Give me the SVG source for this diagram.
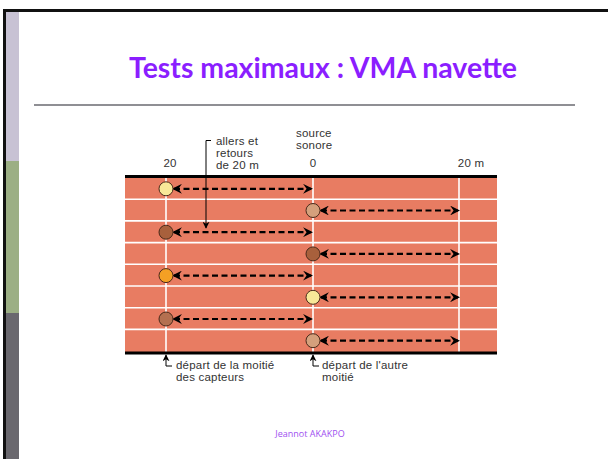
<svg xmlns="http://www.w3.org/2000/svg" width="608" height="459" viewBox="0 0 608 459">
  <defs>
    <marker id="ah" viewBox="0 0 10 10" refX="8" refY="5" markerWidth="4.5" markerHeight="4.5" orient="auto-start-reverse" markerUnits="strokeWidth">
      <path d="M0,0 L10,5 L0,10 L3.5,5 Z" fill="#000"/>
    </marker>
    <marker id="ahs" viewBox="0 0 10 10" refX="9" refY="5" markerWidth="7" markerHeight="7" orient="auto" markerUnits="strokeWidth">
      <path d="M0,0 L10,5 L0,10 L3,5 Z" fill="#000"/>
    </marker>
  </defs>
  <style>
    .lbl { font-family: "Liberation Sans", Arial, sans-serif; font-size: 11.5px; letter-spacing: 0.2px; fill: #333; }
    .lane { stroke: #fff; stroke-width: 1.6; }
    .shuttle { stroke: #000; stroke-width: 2.2; stroke-dasharray: 6 3.5; fill: none; marker-start: url(#ah); marker-end: url(#ah); }
    .runner { stroke: #4a2a1a; stroke-width: 1; }
    .lead { stroke: #000; stroke-width: 1; fill: none; }
  </style>

  <!-- slide frame and side bar -->
  <rect x="0" y="0" width="608" height="459" fill="#fff"/>
  <rect x="6" y="11" width="13" height="150" fill="#c8c2d4"/>
  <rect x="6" y="161" width="13" height="152" fill="#9caf84"/>
  <rect x="6" y="313" width="13" height="146" fill="#6a686e"/>
  <path d="M4.5,459 V10.5 H608" fill="none" stroke="#111" stroke-width="3"/>

  <!-- title -->
  <text x="323" y="78" text-anchor="middle" font-family="Lato, 'Open Sans', 'Liberation Sans', sans-serif" font-weight="bold" font-size="28" fill="#8b1eff" textLength="388" lengthAdjust="spacingAndGlyphs">Tests maximaux : VMA navette</text>
  <line x1="34" y1="105" x2="575" y2="105" stroke="#6a6a70" stroke-width="1.6"/>

  <!-- track -->
  <g id="track">
    <rect x="125" y="176" width="372" height="177" fill="#e87c62"/>
    <line class="lane" x1="125" y1="199.2" x2="497" y2="199.2"/>
    <line class="lane" x1="125" y1="220.9" x2="497" y2="220.9"/>
    <line class="lane" x1="125" y1="242.6" x2="497" y2="242.6"/>
    <line class="lane" x1="125" y1="264.3" x2="497" y2="264.3"/>
    <line class="lane" x1="125" y1="286" x2="497" y2="286"/>
    <line class="lane" x1="125" y1="307.7" x2="497" y2="307.7"/>
    <line class="lane" x1="125" y1="329.4" x2="497" y2="329.4"/>
    <line class="lane" x1="166" y1="177" x2="166" y2="352"/>
    <line class="lane" x1="313" y1="177" x2="313" y2="352"/>
    <line class="lane" x1="459" y1="177" x2="459" y2="352"/>
    <rect x="125" y="175" width="372" height="3" fill="#000"/>
    <rect x="125" y="351.5" width="372" height="3" fill="#000"/>
  </g>

  <!-- scale labels -->
  <g id="scale">
    <text class="lbl" x="170" y="167" text-anchor="middle" font-size="13">20</text>
    <text class="lbl" x="313" y="167" text-anchor="middle" font-size="13">0</text>
    <text class="lbl" x="471" y="167" text-anchor="middle" font-size="13">20 m</text>
  </g>
  <g id="source">
    <text class="lbl" x="296" y="137">source</text>
    <text class="lbl" x="296" y="149">sonore</text>
  </g>

  <!-- connectors -->
  <g id="connectors">
    <line class="shuttle" x1="174" y1="188.8" x2="311" y2="188.8"/>
    <line class="shuttle" x1="321" y1="210.5" x2="458" y2="210.5"/>
    <line class="shuttle" x1="174" y1="232.2" x2="311" y2="232.2"/>
    <line class="shuttle" x1="321" y1="253.9" x2="458" y2="253.9"/>
    <line class="shuttle" x1="174" y1="275.6" x2="311" y2="275.6"/>
    <line class="shuttle" x1="321" y1="297.3" x2="458" y2="297.3"/>
    <line class="shuttle" x1="174" y1="319" x2="311" y2="319"/>
    <line class="shuttle" x1="321" y1="340.7" x2="458" y2="340.7"/>
    <path class="lead" d="M211,140.5 H206 V228" marker-end="url(#ahs)"/>
    <path class="lead" d="M172,366 H166 V355" marker-end="url(#ahs)"/>
    <path class="lead" d="M319,366 H313 V355" marker-end="url(#ahs)"/>
  </g>

  <!-- runners -->
  <g id="runners">
    <circle class="runner" cx="166" cy="188.8" r="7" fill="#f8e898"/>
    <circle class="runner" cx="313" cy="210.5" r="7" fill="#d4a07c"/>
    <circle class="runner" cx="166" cy="232.2" r="7" fill="#a8603c"/>
    <circle class="runner" cx="313" cy="253.9" r="7" fill="#a8603c"/>
    <circle class="runner" cx="166" cy="275.6" r="7" fill="#f4a024"/>
    <circle class="runner" cx="313" cy="297.3" r="7" fill="#f8e898"/>
    <circle class="runner" cx="166" cy="319" r="7" fill="#b47050"/>
    <circle class="runner" cx="313" cy="340.7" r="7" fill="#d4a07c"/>
  </g>

  <!-- annotations -->
  <g id="allers">
    <text class="lbl" x="216" y="145">allers et</text>
    <text class="lbl" x="216" y="157">retours</text>
    <text class="lbl" x="216" y="169">de 20 m</text>
  </g>
  <g id="depart-moitie">
    <text class="lbl" x="176" y="369">départ de la moitié</text>
    <text class="lbl" x="176" y="381">des capteurs</text>
  </g>
  <g id="depart-autre">
    <text class="lbl" x="322" y="369">départ de l'autre</text>
    <text class="lbl" x="322" y="381">moitié</text>
  </g>

  <!-- footer -->
  <text x="310" y="437" text-anchor="middle" font-family="'Open Sans', 'Liberation Sans', sans-serif" font-size="9" fill="#a050f0">Jeannot AKAKPO</text>
</svg>
